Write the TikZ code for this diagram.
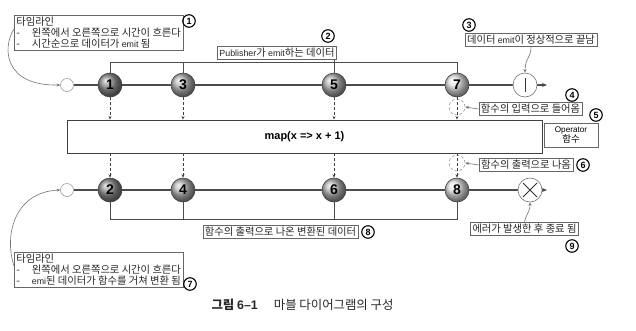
\documentclass[tikz,border=0pt]{standalone}
\usepackage{fontspec}
\setmainfont{Noto Sans CJK KR}
\newfontfamily\latn{Liberation Sans}[Scale=0.86]
\newfontfamily\latnfull{Liberation Sans}
\newcommand\en[1]{{\latn #1}}
\usetikzlibrary{arrows.meta,calc}

\tikzset{
  ball/.style={circle, minimum size=24pt, inner sep=0pt, shading=ball,
    draw=black!75, line width=0.6pt, font=\latnfull\bfseries\fontsize{14}{14}\selectfont},
  startc/.style={circle, minimum size=13pt, inner sep=0pt, draw=black!45, line width=0.5pt, fill=white},
  endc/.style={circle, minimum size=24pt, inner sep=0pt, draw=black!55, line width=0.6pt, fill=white},
  portc/.style={circle, minimum size=16pt, inner sep=0pt, draw=black!45, line width=0.5pt, densely dashed},
  lbl/.style={draw=black!60, line width=0.6pt, fill=white, inner sep=2pt,
    font=\fontsize{10.3}{11}\selectfont, text=black!85},
  num/.style={circle, draw=black, line width=1.1pt, inner sep=0pt, minimum size=12.5pt,
    font=\latnfull\bfseries\fontsize{9}{9}\selectfont},
  timeline/.style={draw=black!70, line width=1.3pt},
  bracket/.style={draw=black!70, line width=0.7pt},
  flow/.style={draw=black!75, line width=0.6pt, densely dashed, -{Stealth[length=3.5pt,width=3pt]}},
  lead/.style={draw=black!55, line width=0.6pt, -{Stealth[length=3.5pt,width=3pt]}},
}

\begin{document}
\begin{tikzpicture}[x=1pt,y=-1pt]
\useasboundingbox (0,0) rectangle (636,330);

% operator body
\node[draw=black!75, line width=0.9pt, minimum width=475pt, minimum height=33pt,
      font=\latnfull\bfseries\fontsize{11}{11}\selectfont] (map) at (304.5,136.5) {map(x => x + 1)};
\node[draw=black!60, line width=0.6pt, minimum width=54pt, minimum height=24pt, inner sep=1pt,
      align=center, font=\fontsize{9.5}{10.5}\selectfont] (op) at (571,135) {\en{Operator}\\함수};
\node[num] (n5) at (596,115) {5};

% upper timeline
\node[startc] (s1) at (67,85) {};
\coordinate (te) at (547,85);
\draw[timeline, -{Stealth[length=5pt,width=4pt]}] (s1.east) -- (te);
\node[endc] (done) at (525,85) {};
\draw[black!80, line width=0.8pt] ($(done)+(0,-7)$) -- ($(done)+(0,7)$);

% upper brackets
\coordinate (tb) at (0,62);
\node[lbl] (pub) at (277,53) {\en{Publisher}가 \en{emit}하는 데이터};
\node[num] (n2) at (328,36) {2};

\node[ball, ball color=black!45] (b1) at (110,85) {1};
\node[ball, ball color=black!30] (b3) at (183,85) {3};
\node[ball, ball color=black!30] (b5) at (334,85) {5};
\node[ball, ball color=black!12] (b7) at (457,85) {7};

\draw[bracket] (b1.north) -- (b1|-tb) -- (b7|-tb) -- (b7.north);
\draw[bracket] (b3.north) -- (b3|-tb);
\draw[bracket] (b5.north) -- (b5|-pub.south);

% lower timeline
\node[startc] (s2) at (67,190) {};
\coordinate (be) at (547,190);
\draw[timeline, -{Stealth[length=5pt,width=4pt]}] (s2.east) -- (be);
\node[endc] (err) at (530,190) {};
\draw[black!80, line width=0.8pt] ($(err)+(-7,-7)$) -- ($(err)+(7,7)$)
                                  ($(err)+(-7,7)$) -- ($(err)+(7,-7)$);

\node[ball, ball color=black!45] (b2) at (110,190) {2};
\node[ball, ball color=black!30] (b4) at (183,190) {4};
\node[ball, ball color=black!30] (b6) at (334,190) {6};
\node[ball, ball color=black!12] (b8) at (457,190) {8};

\coordinate (bb) at (0,219);
\draw[bracket] (b2.south) -- (b2|-bb) -- (b8|-bb) -- (b8.south);
\draw[bracket] (b4.south) -- (b4|-bb);
\draw[bracket] (b6.south) -- (b6|-bb);
\node[lbl] (res) at (280.5,232) {함수의 출력으로 나온 변환된 데이터};
\node[num] (n8) at (368,232) {8};

% input and output ports of the operator
\node[portc] (in1) at (457,107) {};
\node[portc] (out1) at (457,163) {};
\draw[flow] (b1.south) -- (b1|-map.north);
\draw[flow] (b3.south) -- (b3|-map.north);
\draw[flow] (b5.south) -- (b5|-map.north);
\draw[flow] (b7.south) -- (b7|-map.north);
\draw[flow] (b1|-map.south) -- (b2.north);
\draw[flow] (b3|-map.south) -- (b4.north);
\draw[flow] (b5|-map.south) -- (b6.north);
\draw[flow] (b7|-map.south) -- (b8.north);

\node[lbl] (lin) at (530.5,109) {함수의 입력으로 들어옴};
\node[num] (n4) at (572,95) {4};
\draw[lead] (lin.west) -- (in1.east);
\node[lbl] (lout) at (526,165) {함수의 출력으로 나옴};
\node[num] (n6) at (583,165) {6};
\draw[lead] (lout.west) -- (out1.east);

% completion and error notes
\node[lbl] (dl) at (531,40) {데이터 \en{emit}이 정상적으로 끝남};
\node[num] (n3) at (469,25) {3};
\draw[lead] (dl.south) .. controls (531,58) and (525,58) .. (done.north);

\node[lbl] (el) at (524.5,229) {에러가 발생한 후 종료 됨};
\node[num] (n9) at (572,246) {9};
\draw[lead] (el.north) .. controls (527,212) and (530,212) .. (err.south);

% timeline notes
\node[lbl, align=left, anchor=north west] (tl) at (14,15)
  {타임라인\\-\hspace{12pt}왼쪽에서 오른쪽으로 시간이 흐른다\\-\hspace{12pt}시간순으로 데이터가 \en{emit} 됨};
\node[num] (n1) at (189,21) {1};
\draw[lead] ([yshift=4pt]tl.west) .. controls (2,48) and (4,86) .. (s1.west);

\node[lbl, align=left, anchor=north west] (bl) at (14,252)
  {타임라인\\-\hspace{12pt}왼쪽에서 오른쪽으로 시간이 흐른다\\-\hspace{12pt}\en{emi}된 데이터가 함수를 거쳐 변환 됨};
\node[num] (n7) at (190,284) {7};
\draw[lead] ([yshift=4pt]bl.west) .. controls (4,236) and (14,192) .. (s2.west);

% caption
\node[font=\fontsize{12.4}{12.4}\selectfont, text=black!85] (cap) at (302.5,305)
  {{\bfseries 그림 \latnfull 6–1}\hspace{16pt}마블 다이어그램의 구성};
\end{tikzpicture}
\end{document}
